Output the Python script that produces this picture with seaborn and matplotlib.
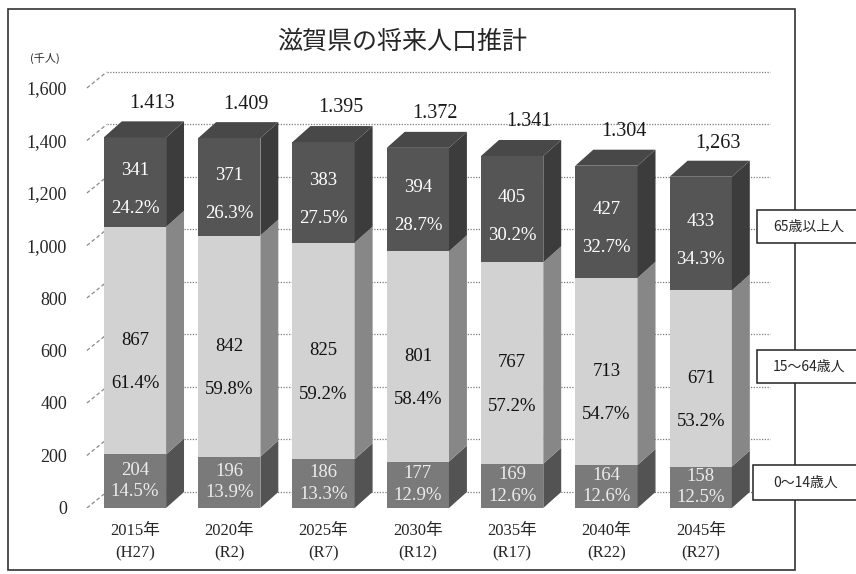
import numpy as np
import pandas as pd
import seaborn as sns
import matplotlib.pyplot as plt
from matplotlib.patches import Polygon, Rectangle

# data (千人)
years = ["2015年\n(H27)", "2020年\n(R2)", "2025年\n(R7)", "2030年\n(R12)",
         "2035年\n(R17)", "2040年\n(R22)", "2045年\n(R27)"]
young = [204, 196, 186, 177, 169, 164, 158]
working = [867, 842, 825, 801, 767, 713, 671]
elderly = [341, 371, 383, 394, 405, 427, 433]
young_pct = [14.5, 13.9, 13.3, 12.9, 12.6, 12.6, 12.5]
working_pct = [61.4, 59.8, 59.2, 58.4, 57.2, 54.7, 53.2]
elderly_pct = [24.2, 26.3, 27.5, 28.7, 30.2, 32.7, 34.3]
total_labels = ["1.413", "1.409", "1.395", "1.372", "1.341", "1.304", "1,263"]
group_names = ["65歳以上人", "15〜64歳人", "0〜14歳人"]

sns.set_style("white")
plt.rcParams['font.family'] = ['Liberation Serif', 'Noto Sans CJK JP']
JP = ['Noto Sans CJK JP', 'DejaVu Sans']

df = pd.DataFrame({"year": years, "young": young, "working": working, "elderly": elderly})
df["mid"] = df["young"] + df["working"]
df["total"] = df["mid"] + df["elderly"]

C_OLD, C_OLD_S, C_OLD_T = "#555555", "#3c3c3c", "#484848"
C_MID, C_MID_S = "#d2d2d2", "#878787"
C_YNG, C_YNG_S = "#7a7a7a", "#535353"

fig = plt.figure(figsize=(8.56, 5.74), dpi=100)
ax = fig.add_axes([0.0993, 0.115, 0.8119, 0.7774])

W = 0.66
DX, DY = 0.19, 61   # depth of the 3D effect

sns.barplot(data=df, x="year", y="total", color=C_OLD, width=W, saturation=1,
            linewidth=0, zorder=3, ax=ax)
sns.barplot(data=df, x="year", y="mid", color=C_MID, width=W, saturation=1,
            linewidth=0, zorder=3, ax=ax)
sns.barplot(data=df, x="year", y="young", color=C_YNG, width=W, saturation=1,
            linewidth=0, zorder=3, ax=ax)

ax.set_xlim(-0.53, 6.84)
ax.set_ylim(0, 1700)

# back wall grid + left wall edges
x0 = ax.get_xlim()[0]
for v in range(0, 1601, 200):
    ax.plot([x0 + 0.23, 6.73], [v + DY, v + DY], color="#7a7a7a", lw=0.9,
            ls=(0, (1, 1.2)), zorder=1)
    ax.plot([x0 + 0.02, x0 + 0.23], [v, v + DY], color="#8a8a8a", lw=0.9,
            ls=(0, (3, 2)), zorder=1)

# side and top faces of the bars
for bar, (i, r) in zip(ax.patches[:7], df.iterrows()):
    xl = bar.get_x()
    xr = xl + bar.get_width()
    segs = [(0, r["young"], C_YNG_S), (r["young"], r["mid"], C_MID_S),
            (r["mid"], r["total"], C_OLD_S)]
    for b, t, c in segs:
        ax.add_patch(Polygon([(xr, b), (xr + DX, b + DY), (xr + DX, t + DY), (xr, t)],
                             closed=True, fc=c, ec="none", zorder=3))
    T = r["total"]
    ax.add_patch(Polygon([(xl, T), (xl + DX, T + DY), (xr + DX, T + DY), (xr, T)],
                         closed=True, fc=C_OLD_T, ec="none", zorder=3))

    xc = xl + bar.get_width() / 2
    ax.text(xc + 0.18, T + 130, total_labels[i], ha="center", va="center",
            fontsize=14.5, color="#1a1a1a")
    top_c = (r["mid"] + T) / 2
    ax.text(xc, top_c + 45, f"{r['elderly']}", ha="center", va="center",
            fontsize=13.5, color="white", zorder=5)
    ax.text(xc, top_c - 100, f"{elderly_pct[i]:.1f}%", ha="center", va="center",
            fontsize=13.5, color="white", zorder=5)
    mid_c = (r["young"] + r["mid"]) / 2
    ax.text(xc, mid_c, f"{r['working']}", ha="center", va="center",
            fontsize=13.5, color="#111", zorder=5)
    ax.text(xc, mid_c - 165, f"{working_pct[i]:.1f}%", ha="center", va="center",
            fontsize=13.5, color="#111", zorder=5)
    low_c = r["young"] / 2
    ax.text(xc, low_c + 42, f"{r['young']}", ha="center", va="center",
            fontsize=13.5, color="#ececec", zorder=5)
    ax.text(xc, low_c - 40, f"{young_pct[i]:.1f}%", ha="center", va="center",
            fontsize=13.5, color="#ececec", zorder=5)

ax.set_yticks(range(0, 1601, 200))
ax.set_yticklabels([f"{v:,}" for v in range(0, 1601, 200)], fontsize=13)
ax.tick_params(axis="y", length=0, pad=13)
ax.tick_params(axis="x", length=0, pad=11)
for lab in ax.get_xticklabels():
    lab.set_fontsize(12)
    lab.set_linespacing(1.5)
ax.set_xlabel("")
ax.set_ylabel("")
sns.despine(ax=ax, left=True, bottom=True)

# frame, title, unit
fig.add_artist(Rectangle((8 / 856, 1 - 570 / 574), 787 / 856, 561 / 574,
                         transform=fig.transFigure, fill=False, ec="#333", lw=1.2,
                         zorder=0))
fig.text(0.47, 1 - 42 / 574, "滋賀県の将来人口推計", ha="center", va="center",
         fontsize=18, family=JP)
fig.text(0.052, 1 - 58 / 574, "(千人)", ha="center", va="center", fontsize=8, family=JP)

# series name boxes at right (cut by the image edge)
for name, (x_px, y0, y1) in zip(group_names, [(757, 210, 243), (757, 350, 383),
                                              (753, 465, 500)]):
    fig.add_artist(Rectangle((x_px / 856, 1 - y1 / 574), (870 - x_px) / 856,
                             (y1 - y0) / 574, transform=fig.transFigure,
                             fc="white", ec="#222", lw=1.1, zorder=10))
    fig.text(773 / 856, 1 - (y0 + y1) / 2 / 574, name, ha="left", va="center",
             fontsize=10, family=JP, zorder=11)

fig.savefig("out.png", dpi=100)
